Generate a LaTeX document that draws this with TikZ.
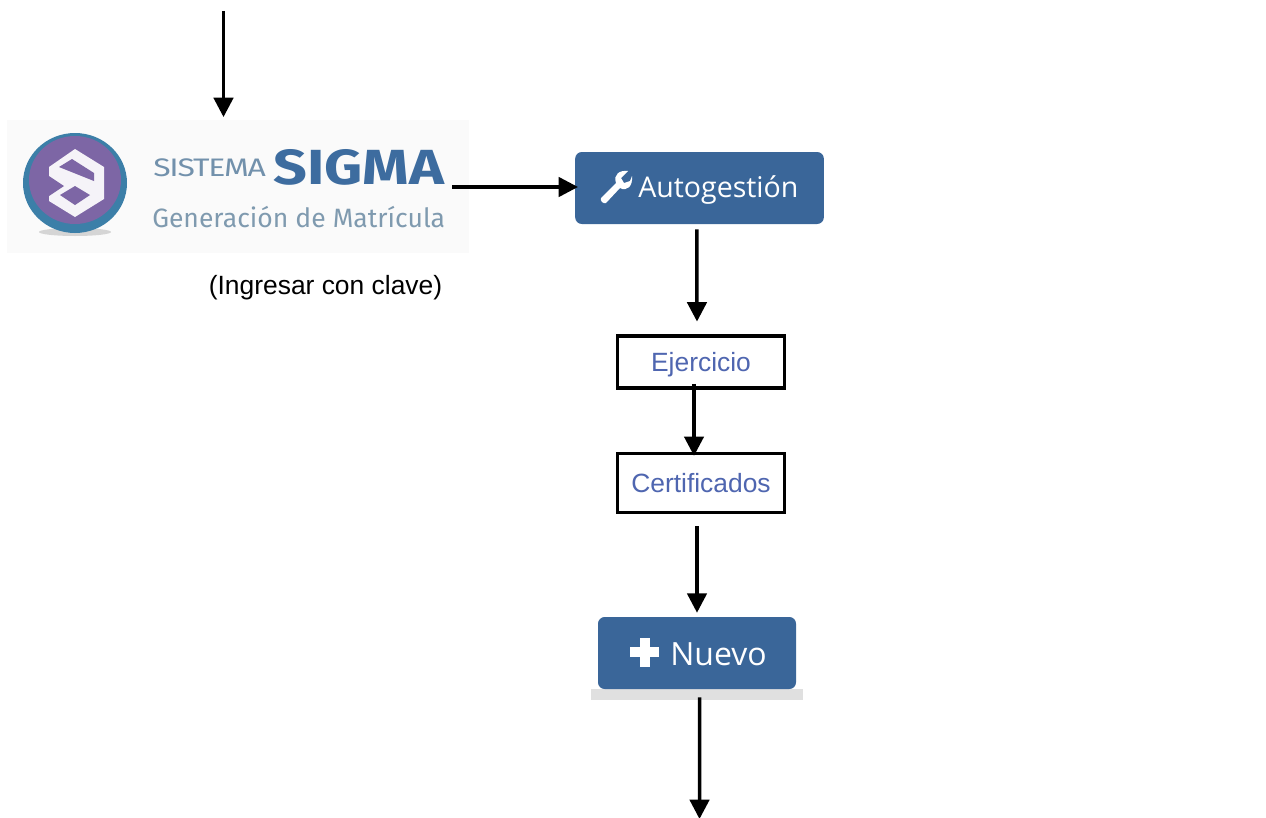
\documentclass[tikz,border=0pt]{standalone}
\usepackage{fontspec}
\setmainfont{Liberation Sans}
\newfontfamily\btnfont{Open Sans}
\newfontfamily\logofont{Fira Sans}
\usetikzlibrary{arrows.meta,calc}
\definecolor{btnblue}{HTML}{3A6699}
\definecolor{linkblue}{HTML}{4F66B0}
\definecolor{sigmablue}{HTML}{3D6C9F}
\definecolor{genblue}{HTML}{7F9AAF}
\definecolor{ringblue}{HTML}{3C7FA8}
\definecolor{ringpurple}{HTML}{7D66A5}
\tikzset{
  x=0.75pt,y=-0.75pt,
  flow/.style={line width=2.6pt,-{Triangle[length=14.5pt,width=14.5pt]}},
  btn/.style={fill=btnblue,rounded corners=5pt,inner sep=0pt,text=white,anchor=center},
  linkbox/.style={draw=black,line width=2.7pt,fill=white,inner sep=0pt,text=linkblue,font=\fontsize{19.8}{24}\selectfont,minimum width=125pt,text depth=0pt,anchor=center},
}
\begin{document}
\begin{tikzpicture}
\useasboundingbox (0,0) rectangle (1266,817);
% logo
\node[fill=black!2,minimum width=346.5pt,minimum height=99.75pt,inner sep=0pt] (logo) at (238,186.5) {};
\fill[black!30,opacity=.5] (75,232) ellipse (36 and 4);
\fill[ringblue] (75,183) ellipse (52 and 50);
\fill[ringpurple] (75,180) ellipse (46 and 44);
\fill[white!92!ringpurple] (75,149) -- (104,167) -- (104,199) -- (75,217) -- (49,201) -- (49,167) -- cycle;
\fill[ringpurple] (59,167) -- (72,159) -- (94,173) -- (94,181) -- cycle;
\fill[ringpurple] (49,176) -- (64,186) -- (49,196) -- cycle;
\fill[ringpurple] (75,186) -- (90,195) -- (75,205) -- (60,195) -- cycle;
\node[anchor=west,inner sep=0pt,xscale=1.26,text=genblue!80!sigmablue,font=\logofont\fontsize{19}{22}\selectfont\addfontfeature{LetterSpace=-4}] (sistema) at (153,168) {SISTEMA};
\node[anchor=west,inner sep=0pt,xscale=1.2,text=sigmablue,font=\logofont\bfseries\fontsize{37}{40}\selectfont] (sigma) at (273,167) {SIGMA};
\node[anchor=west,inner sep=0pt,text=genblue,font=\logofont\fontsize{19.9}{22}\selectfont] (gen) at (152,217) {Generación de Matrícula};
\node[inner sep=0pt,font=\fontsize{19.8}{24}\selectfont] (clave) at (325.5,288) {(Ingresar con clave)};
% buttons
\node[btn,minimum width=186.5pt,minimum height=54pt] (auto) at (699.5,188) {};
\node[inner sep=0pt,anchor=west,text=white,font=\btnfont\fontsize{21.4}{26}\selectfont] (autotxt) at (638,190) {Autogestión};
\fill[white] (601,198) -- (616,183) .. controls (613,174) and (620,170) .. (628,171) -- (621,178) -- (624,183) -- (630,181) -- (632,176)
  .. controls (633,186) and (627,192) .. (620,188) -- (606,203) .. controls (603,204) and (600,201) .. (601,198) -- cycle;
% boxes
\node[linkbox,minimum height=39pt] (ej) at (701,362) {Ejercicio};
\node[linkbox,minimum height=44pt] (cert) at (701,483) {Certificados};
% nuevo
\fill[black!12] (591,689) rectangle (803,700);
\node[btn,minimum width=148.5pt,minimum height=54pt] (nuevo) at (697,653) {};
\node[inner sep=0pt,anchor=west,text=white,font=\btnfont\fontsize{24}{26}\selectfont] (nuevotxt) at (670,654) {Nuevo};
\fill[white] (640,638) rectangle (650,667);
\fill[white] (630,647) rectangle (659,657);
% connectors
\coordinate (topstart) at (223.5,11);
\coordinate (bottomend) at (699.5,819);
\coordinate (logoout) at (452,187);
\coordinate (autoin) at (578,187);
\draw[flow] (topstart) -- ([yshift=2pt]logo.north -| topstart);
\draw[flow] (logoout) -- (autoin);
\draw[flow] ([xshift=-2pt,yshift=-3.75pt]auto.south) -- ([xshift=-3pt,yshift=9.5pt]ej.north);
\draw[flow] ([xshift=-5.25pt,yshift=4.5pt]ej.south) -- ([xshift=-5.25pt,yshift=-3pt]cert.north);
\draw[flow] ([xshift=-3pt,yshift=-9pt]cert.south) -- ([yshift=3pt]nuevo.north);
\draw[flow] ([xshift=2pt,yshift=-6pt]nuevo.south) -- (bottomend);
\end{tikzpicture}
\end{document}
